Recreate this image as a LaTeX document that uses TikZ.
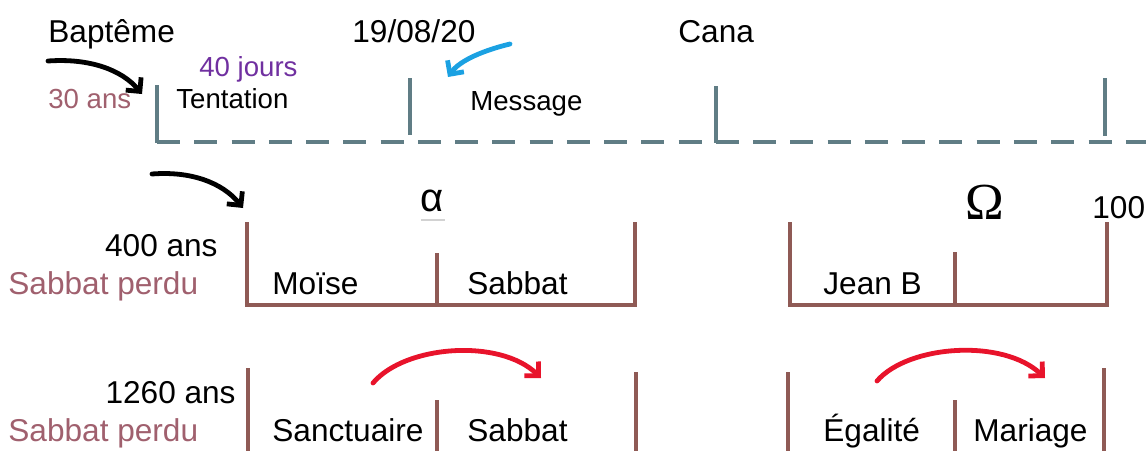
\documentclass[tikz,border=0pt]{standalone}
\usepackage{fontspec}
\setmainfont{Liberation Sans}
\newfontfamily\grecfont{Liberation Serif}
\usetikzlibrary{arrows.meta}
\definecolor{ardoise}{RGB}{96,125,133}
\definecolor{brun}{RGB}{143,90,85}
\definecolor{rose}{RGB}{160,96,110}
\definecolor{violet}{RGB}{112,48,160}
\definecolor{ciel}{RGB}{27,161,226}
\definecolor{rouge}{RGB}{232,19,43}
\tikzset{
  grand/.style={inner sep=0pt, anchor=base west, font=\fontsize{15.8}{18}\selectfont},
  petit/.style={inner sep=0pt, anchor=base west, font=\fontsize{13.8}{16}\selectfont},
  axe/.style={line width=1.7pt, color=ardoise},
  cadre/.style={line width=1.8pt, color=brun},
  fleche/.style={line width=2.4pt, line cap=round, -{Straight Barb[length=5pt,width=10pt]}}
}
\begin{document}
\begin{tikzpicture}[x=0.5pt,y=-0.5pt]
		\useasboundingbox (0,0) rectangle (1146,450);
		% Ligne du temps
		\draw[axe, dash pattern=on 11.5pt off 7.13pt] (157,142) -- (1170,142);
		\draw[axe] (157,85) -- (157,143);
		\draw[axe] (410,78) -- (410,135);
		\draw[axe] (716,86) -- (716,143);
		\draw[axe] (1105,78) -- (1105,136);
		\node[grand] (bapteme) at (48,42) {Baptême};
		\node[grand] (date) at (352,42) {19/08/20};
		\node[grand] (cana) at (678,42) {Cana};
		\node[petit, text=violet] (jours) at (199,76) {40 jours};
		\node[petit, text=rose] (trente) at (48,108) {30 ans};
		\node[petit] (tentation) at (176,108) {Tentation};
		\node[petit] (message) at (470,110) {Message};
		% Fleches du haut
		\coordinate (bA) at (48,61);
		\coordinate (bB) at (142,94);
		\draw[fleche] (bA) .. controls (90,58) and (122,70) .. (bB);
		\coordinate (cA) at (510,44);
		\coordinate (cB) at (448,77);
		\draw[fleche, ciel] (cA) .. controls (485,50) and (460,60) .. (cB);
		% Deuxieme ligne : 400 ans
		\coordinate (dA) at (152,174);
		\coordinate (dB) at (243,208);
		\draw[fleche] (dA) .. controls (190,171) and (222,182) .. (dB);
		\node[inner sep=0pt, anchor=base west, font=\fontsize{20}{22}\selectfont] (alpha) at (420,211) {α};
		\draw[gray!35, line width=0.6pt] (421,220) -- (445,220);
		\node[inner sep=0pt, anchor=base west, font=\grecfont\fontsize{26}{28}\selectfont] (omega) at (965,219) {Ω};
		\node[grand] (cent) at (1092,218) {100};
		\node[grand, anchor=base east] (quatrecents) at (218,256) {400 ans};
		\node[grand, text=rose] (perduA) at (8,294) {Sabbat perdu};
		\node[grand] (moise) at (272,294) {Moïse};
		\node[grand] (sabbatA) at (467,294) {Sabbat};
		\node[grand] (jean) at (823,294) {Jean B};
		\draw[cadre] (247,222) -- (247,305) -- (635,305) -- (635,222);
		\draw[cadre] (437,253) -- (437,305);
		\draw[cadre] (790,222) -- (790,305) -- (1107,305) -- (1107,222);
		\draw[cadre] (955,252) -- (955,305);
		% Troisieme ligne : 1260 ans
		\node[grand, anchor=base east] (mille) at (236,403) {1260 ans};
		\node[grand, text=rose] (perduB) at (8,441) {Sabbat perdu};
		\node[grand] (sanctuaire) at (272,441) {Sanctuaire};
		\node[grand] (sabbatB) at (467,441) {Sabbat};
		\node[grand] (egalite) at (823,441) {Égalité};
		\node[grand] (mariage) at (973,441) {Mariage};
		\foreach \x/\y in {248/368, 437/400, 636/372, 788/372, 955/400, 1104/368}
			\draw[cadre] (\x,\y) -- (\x,460);
		\coordinate (eA) at (373,383);
		\coordinate (eB) at (541,378);
		\draw[fleche, rouge] (eA) .. controls (405,345) and (500,338) .. (eB);
		\coordinate (fA) at (877,381);
		\coordinate (fB) at (1045,378);
		\draw[fleche, rouge] (fA) .. controls (908,345) and (1003,338) .. (fB);
\end{tikzpicture}
\end{document}
